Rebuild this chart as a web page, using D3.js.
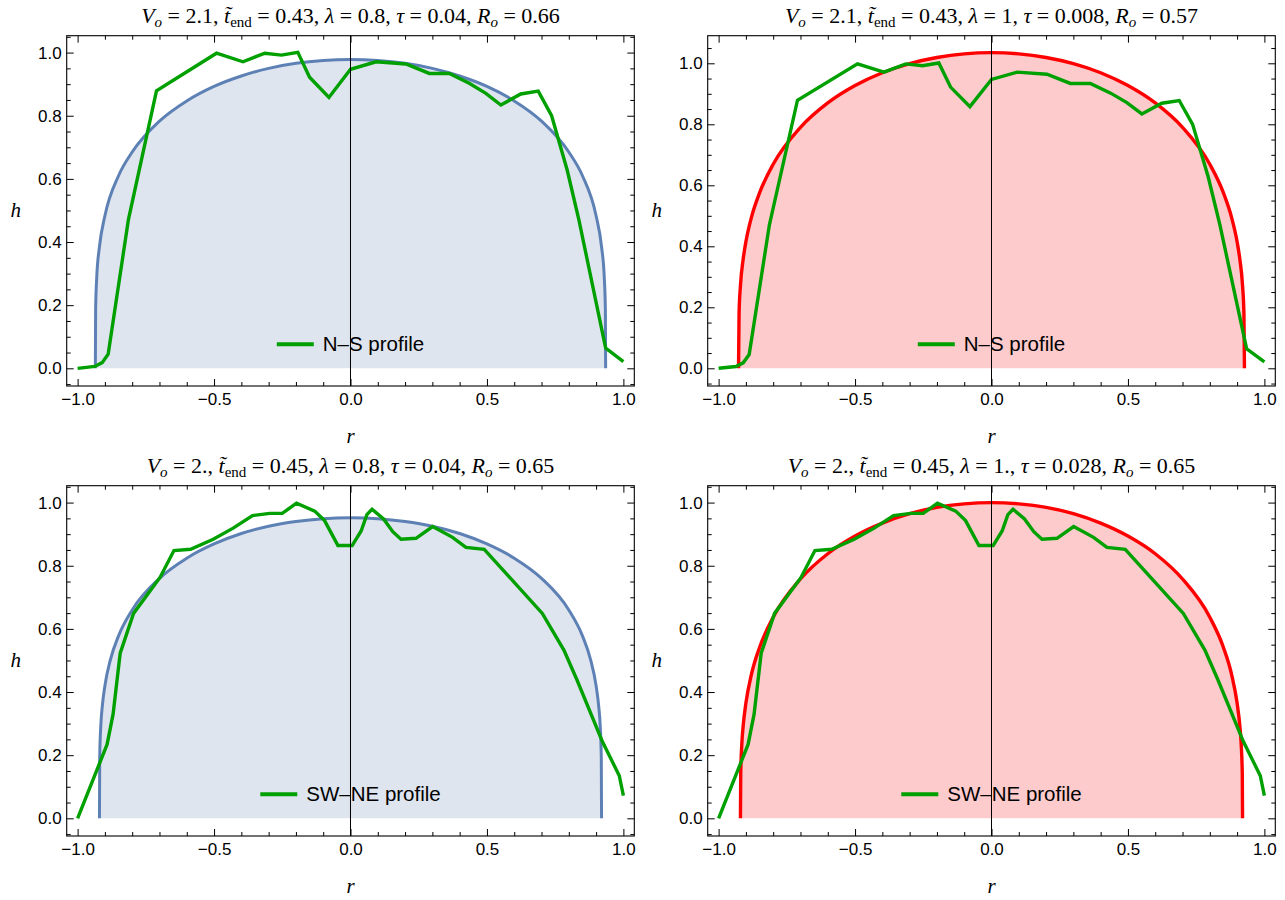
<!DOCTYPE html>
<html>
<head>
<meta charset="utf-8">
<style>
  body { margin: 0; background: #fff; }
</style>
</head>
<body>
<svg width="1285" height="900"></svg>
<script src="https://d3js.org/d3.v7.min.js"></script>
<script>

var svg = d3.select("svg");

// measured N-S profile (same in both top panels)
var nsR = [-1.0, -0.937, -0.91, -0.888, -0.814, -0.711, -0.491, -0.394, -0.314, -0.253, -0.193, -0.150, -0.079, 0.0,
           0.094, 0.203, 0.289, 0.362, 0.435, 0.496, 0.551, 0.624, 0.688, 0.737, 0.794, 0.837, 0.935, 1.0];
var nsH = [0.0, 0.006, 0.018, 0.045, 0.47, 0.879, 0.998, 0.971, 0.998, 0.992, 1.001, 0.922, 0.858, 0.947,
           0.971, 0.964, 0.934, 0.934, 0.903, 0.871, 0.834, 0.869, 0.878, 0.800, 0.628, 0.47, 0.064, 0.021];

// measured SW-NE profile (same in both bottom panels)
var swR = [-1.0, -0.892, -0.87, -0.844, -0.795, -0.698, -0.647, -0.586, -0.503, -0.430, -0.359, -0.296, -0.250, -0.198,
           -0.131, -0.095, -0.046, 0.006, 0.039, 0.060, 0.079, 0.121, 0.155, 0.185, 0.240, 0.301, 0.374, 0.423,
           0.490, 0.703, 0.782, 0.830, 0.923, 0.985, 1.0];
var swH = [0.0, 0.234, 0.33, 0.523, 0.649, 0.763, 0.848, 0.852, 0.884, 0.919, 0.959, 0.966, 0.966, 0.998,
           0.973, 0.943, 0.864, 0.864, 0.910, 0.962, 0.979, 0.948, 0.908, 0.884, 0.887, 0.924, 0.890, 0.858,
           0.852, 0.649, 0.533, 0.438, 0.243, 0.135, 0.072];

// model dome shapes
var domeTLr = [-0.935, -0.934, -0.93, -0.92, -0.9, -0.85, -0.8, -0.7, -0.6, -0.5, -0.4, -0.3, -0.2, -0.1, 0,
               0.1, 0.2, 0.3, 0.4, 0.5, 0.6, 0.7, 0.8, 0.85, 0.9, 0.92, 0.93, 0.934, 0.935];
var domeTLh = [0, 0.186, 0.287, 0.385, 0.483, 0.610, 0.685, 0.783, 0.847, 0.893, 0.926, 0.950, 0.966, 0.975, 0.978,
               0.975, 0.966, 0.950, 0.926, 0.893, 0.847, 0.783, 0.685, 0.610, 0.483, 0.385, 0.287, 0.186, 0];

var domeTRr = [-0.927, -0.925, -0.92, -0.91, -0.9, -0.88, -0.85, -0.8, -0.7, -0.6, -0.5, -0.4, -0.3, -0.2, -0.1, 0,
               0.1, 0.2, 0.3, 0.4, 0.5, 0.6, 0.7, 0.8, 0.85, 0.88, 0.9, 0.91, 0.92, 0.925, 0.927];
var domeTRh = [0, 0.181, 0.271, 0.358, 0.415, 0.494, 0.575, 0.669, 0.790, 0.870, 0.927, 0.969, 0.999, 1.019, 1.031, 1.035,
               1.031, 1.019, 0.999, 0.969, 0.927, 0.870, 0.790, 0.669, 0.575, 0.494, 0.415, 0.358, 0.271, 0.181, 0];

var domeBLr = [-0.92, -0.919, -0.915, -0.91, -0.9, -0.88, -0.85, -0.8, -0.7, -0.6, -0.5, -0.4, -0.3, -0.2, -0.1, 0,
               0.1, 0.2, 0.3, 0.4, 0.5, 0.6, 0.7, 0.8, 0.85, 0.88, 0.9, 0.91, 0.915, 0.919, 0.92];
var domeBLh = [0, 0.193, 0.294, 0.351, 0.420, 0.502, 0.578, 0.660, 0.760, 0.824, 0.869, 0.902, 0.925, 0.940, 0.949, 0.952,
               0.949, 0.940, 0.925, 0.902, 0.869, 0.824, 0.760, 0.660, 0.578, 0.502, 0.420, 0.351, 0.294, 0.193, 0];

var domeBRr = [-0.92, -0.919, -0.915, -0.91, -0.9, -0.88, -0.85, -0.8, -0.7, -0.6, -0.5, -0.4, -0.3, -0.2, -0.1, 0,
               0.1, 0.2, 0.3, 0.4, 0.5, 0.6, 0.7, 0.8, 0.85, 0.88, 0.9, 0.91, 0.915, 0.919, 0.92];
var domeBRh = [0, 0.140, 0.235, 0.293, 0.365, 0.455, 0.541, 0.637, 0.758, 0.838, 0.894, 0.935, 0.965, 0.985, 0.996, 1.0,
               0.996, 0.985, 0.965, 0.935, 0.894, 0.838, 0.758, 0.637, 0.541, 0.455, 0.365, 0.293, 0.235, 0.140, 0];

// panel titles
var titleVo  = ["2.1", "2.1", "2.", "2."];
var titleT   = ["0.43", "0.43", "0.45", "0.45"];
var titleLam = ["0.8", "1", "0.8", "1."];
var titleTau = ["0.04", "0.008", "0.04", "0.028"];
var titleRo  = ["0.66", "0.57", "0.65", "0.65"];

var legendNames = ["N\u2013S profile", "SW\u2013NE profile"];

var xMajor = [-1, -0.5, 0, 0.5, 1];
var xMinor = [-0.9, -0.8, -0.7, -0.6, -0.4, -0.3, -0.2, -0.1, 0.1, 0.2, 0.3, 0.4, 0.6, 0.7, 0.8, 0.9];
var yMajor = [0, 0.2, 0.4, 0.6, 0.8, 1.0];
var yMinor = [-0.05, 0.05, 0.1, 0.15, 0.25, 0.3, 0.35, 0.45, 0.5, 0.55, 0.65, 0.7, 0.75, 0.85, 0.9, 0.95, 1.05];

var panels = [
  {col: 0, row: 0, r: domeTLr, h: domeTLh, stroke: "#5e81b5", fill: "#dfe5ef", yMax: 1.0535, yMin: -0.056, prof: 0},
  {col: 1, row: 0, r: domeTRr, h: domeTRh, stroke: "#ff0000", fill: "#fdcbcb", yMax: 1.0905, yMin: -0.058, prof: 0},
  {col: 0, row: 1, r: domeBLr, h: domeBLh, stroke: "#5e81b5", fill: "#dfe5ef", yMax: 1.0535, yMin: -0.056, prof: 1},
  {col: 1, row: 1, r: domeBRr, h: domeBRh, stroke: "#ff0000", fill: "#fdcbcb", yMax: 1.0535, yMin: -0.056, prof: 1}
];

var fw = 567.6, fh = 350.3;
var sansFont = "'Liberation Sans', Arial, sans-serif";
var serifFont = "'Liberation Serif', 'Times New Roman', serif";
var fmt = d3.format(".1f");

panels.forEach(function(p, i) {
  var ox = 66.7 + p.col * 641, oy = 35.7 + p.row * 450;
  var x = d3.scaleLinear().domain([-1.04, 1.04]).range([0, fw]);
  var y = d3.scaleLinear().domain([p.yMin, p.yMax]).range([fh, 0]);
  var g = svg.append("g").attr("transform", "translate(" + ox + "," + oy + ")");

  var idx = d3.range(p.r.length);
  g.append("path")
      .datum(idx)
      .attr("fill", p.fill)
      .attr("d", d3.area()
        .x(function(k) { return x(p.r[k]); })
        .y0(y(0))
        .y1(function(k) { return y(p.h[k]); })
        .curve(d3.curveMonotoneX));

  g.append("path")
      .datum(idx)
      .attr("fill", "none")
      .attr("stroke", p.stroke)
      .attr("stroke-width", p.col ? 3.4 : 3)
      .attr("d", d3.line()
        .x(function(k) { return x(p.r[k]); })
        .y(function(k) { return y(p.h[k]); })
        .curve(d3.curveMonotoneX));

  var pr = p.prof ? swR : nsR, ph = p.prof ? swH : nsH;
  g.append("path")
      .datum(d3.range(pr.length))
      .attr("fill", "none")
      .attr("stroke", "#00a000")
      .attr("stroke-width", 3.4)
      .attr("d", d3.line()
        .x(function(k) { return x(pr[k]); })
        .y(function(k) { return y(ph[k]); }));

  // axis line at r = 0
  g.append("line")
      .attr("x1", x(0)).attr("x2", x(0))
      .attr("y1", 0).attr("y2", fh)
      .attr("stroke", "#000").attr("stroke-width", 1);

  // ticks on all four sides
  var ax = [
    [d3.axisBottom(x).tickValues(xMajor).tickSize(-7).tickPadding(7).tickFormat(fmt), 0, fh],
    [d3.axisBottom(x).tickValues(xMinor).tickSize(-4).tickFormat(""), 0, fh],
    [d3.axisTop(x).tickValues(xMajor).tickSize(-7).tickFormat(""), 0, 0],
    [d3.axisTop(x).tickValues(xMinor).tickSize(-4).tickFormat(""), 0, 0],
    [d3.axisLeft(y).tickValues(yMajor).tickSize(-7).tickPadding(5).tickFormat(fmt), 0, 0],
    [d3.axisLeft(y).tickValues(yMinor).tickSize(-4).tickFormat(""), 0, 0],
    [d3.axisRight(y).tickValues(yMajor).tickSize(-7).tickFormat(""), fw, 0],
    [d3.axisRight(y).tickValues(yMinor).tickSize(-4).tickFormat(""), fw, 0]
  ];
  ax.forEach(function(a) {
    var ag = g.append("g").attr("transform", "translate(" + a[1] + "," + a[2] + ")").call(a[0]);
    ag.select(".domain").remove();
    ag.attr("font-family", sansFont).attr("font-size", 17);
    ag.selectAll("line").attr("stroke", "#000");
  });

  g.append("rect")
      .attr("width", fw).attr("height", fh)
      .attr("fill", "none").attr("stroke", "#000").attr("stroke-width", 1.1);

  // axis labels
  g.append("text")
      .attr("x", x(0)).attr("y", 407)
      .attr("text-anchor", "middle")
      .attr("font-family", serifFont).attr("font-style", "italic").attr("font-size", 21)
      .text("r");
  g.append("text")
      .attr("x", -51).attr("y", 181)
      .attr("text-anchor", "middle")
      .attr("font-family", serifFont).attr("font-style", "italic").attr("font-size", 21)
      .text("h");

  // title
  var t = g.append("text")
      .attr("x", x(0)).attr("y", -13)
      .attr("text-anchor", "middle")
      .attr("font-family", serifFont).attr("font-size", 22);
  var parts = [
    ["V", "i"], ["o", "is"], [" = " + titleVo[i] + ", ", ""],
    ["t\u0303", "i"], ["end", "s"], [" = " + titleT[i] + ", ", ""],
    ["\u03bb", "i"], [" = " + titleLam[i] + ", ", ""],
    ["\u03c4", "i"], [" = " + titleTau[i] + ", ", ""],
    ["R", "i"], ["o", "is"], [" = " + titleRo[i], ""]
  ];
  var down = false;
  parts.forEach(function(q) {
    var sub = q[1].indexOf("s") >= 0;
    var ts = t.append("tspan").text(q[0]).attr("xml:space", "preserve");
    if (q[1].indexOf("i") >= 0) ts.attr("font-style", "italic");
    if (sub) ts.attr("font-size", 15);
    if (sub && !down) { ts.attr("dy", 4.5); down = true; }
    else if (!sub && down) { ts.attr("dy", -4.5); down = false; }
  });

  // legend, centred on the panel
  var lg = g.append("g").attr("transform", "translate(0," + 308.6 + ")");
  var lt = lg.append("text")
      .attr("x", 46).attr("y", 7)
      .attr("font-family", sansFont).attr("font-size", 20.5)
      .text(legendNames[p.prof]);
  lg.append("line")
      .attr("x1", 0).attr("x2", 37)
      .attr("stroke", "#00a000").attr("stroke-width", 4);
  var wTot = 46 + lt.node().getComputedTextLength();
  lg.attr("transform", "translate(" + (x(0) - wTot / 2) + "," + 308.6 + ")");
});

</script>
</body>
</html>
